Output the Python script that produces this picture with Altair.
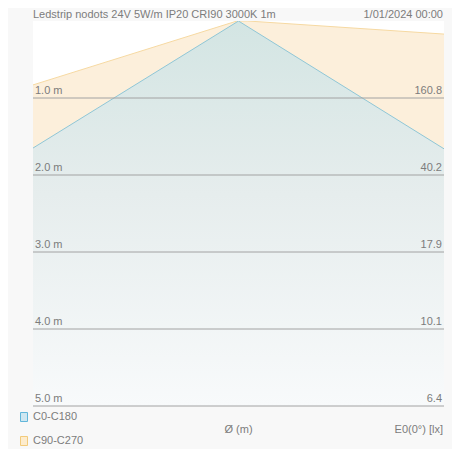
import altair as alt
import pandas as pd

# ---- data ----
title_left = "Ledstrip nodots 24V 5W/m IP20 CRI90 3000K 1m"
title_right = "1/01/2024 00:00"

distances = [1.0, 2.0, 3.0, 4.0, 5.0]
dist_labels = ["1.0 m", "2.0 m", "3.0 m", "4.0 m", "5.0 m"]
lux_labels = ["160.8", "40.2", "17.9", "10.1", "6.4"]

# cone outlines: diameter position (m) and distance (m)
c0_x = [-2.67, 0.0, 2.67]
c0_d = [1.65, 0.0, 1.66]
c90_x = [-2.67, -0.02, 0.12, 2.67]
c90_d = [0.83, 0.0, 0.0, 0.17]

legend_labels = ["C0-C180", "C90-C270"]
x_title = "Ø (m)"
e_title = "E0(0°) [lx]"

X_DOMAIN = [-2.67, 2.67]
Y_DOMAIN = [0.0, 5.0]
W, H = 411, 385
FONT = "Liberation Sans"
TXT = "#7c7c7c"

xs = alt.Scale(domain=X_DOMAIN, nice=False, zero=False)
ys = alt.Scale(domain=Y_DOMAIN, nice=False, zero=False, reverse=True)

c0 = pd.DataFrame({"x": c0_x, "d": c0_d, "bottom": Y_DOMAIN[1]})
c90 = pd.DataFrame({"x": c90_x, "d": c90_d, "bottom": Y_DOMAIN[1]})
grid = pd.DataFrame({"d": distances, "left": dist_labels, "right": lux_labels})

X = alt.X("x:Q", scale=xs, axis=None)
Y = alt.Y("d:Q", scale=ys, axis=None)

c90_area = alt.Chart(c90).mark_area(color="#fcefdb", clip=True, interpolate="linear").encode(
    x=X, y=Y, y2="bottom:Q")
c90_line = alt.Chart(c90).mark_line(color="#f6d9a2", strokeWidth=1, clip=True).encode(x=X, y=Y)

blue_grad = alt.Gradient(
    gradient="linear",
    stops=[alt.GradientStop(color="#d3e5e3", offset=0),
           alt.GradientStop(color="#e6eded", offset=0.45),
           alt.GradientStop(color="#f8fafb", offset=1)],
    x1=0, x2=0, y1=0, y2=1)
c0_area = alt.Chart(c0).mark_area(color=blue_grad, clip=True, interpolate="linear").encode(
    x=X, y=Y, y2="bottom:Q")
c0_line = alt.Chart(c0).mark_line(color="#8fc6d6", strokeWidth=1, clip=True).encode(x=X, y=Y)

rules = alt.Chart(grid).mark_rule(color="#a2a2a2", strokeWidth=1).encode(
    y=alt.Y("d:Q", scale=ys, axis=None), x=alt.value(0), x2=alt.value(W))
left_txt = alt.Chart(grid).mark_text(align="left", baseline="bottom", dy=-2, fontSize=11,
                                     font=FONT, color=TXT).encode(
    y=alt.Y("d:Q", scale=ys, axis=None), x=alt.value(2), text="left:N")
right_txt = alt.Chart(grid).mark_text(align="right", baseline="bottom", dy=-2, fontSize=11,
                                      font=FONT, color=TXT).encode(
    y=alt.Y("d:Q", scale=ys, axis=None), x=alt.value(W - 2), text="right:N")

def label(txt, x, y, align, baseline="middle"):
    return alt.Chart(pd.DataFrame({"t": [txt]})).mark_text(
        align=align, baseline=baseline, fontSize=11, font=FONT, color=TXT).encode(
        x=alt.value(x), y=alt.value(y), text="t:N")

def swatch(y, fill, stroke):
    return alt.Chart(pd.DataFrame({"a": [0]})).mark_rect(fill=fill, stroke=stroke, strokeWidth=1).encode(
        x=alt.value(-12.5), x2=alt.value(-5.5), y=alt.value(y - 4.5), y2=alt.value(y + 4.5))

layers = [
    c90_area, c90_line, c0_area, c0_line, rules, left_txt, right_txt,
    label(title_left, 0, -12.5, "left", "top"),
    label(title_right, W - 1, -12.5, "right", "top"),
    swatch(396, "#cfe7f1", "#62b6da"),
    swatch(420, "#fdeccd", "#f2cb7c"),
    label(legend_labels[0], 0, 396, "left"),
    label(legend_labels[1], 0, 420, "left"),
    label(x_title, W / 2, 409, "center"),
    label(e_title, W - 1, 409, "right"),
]

chart = alt.layer(*layers).properties(
    width=W, height=H,
    autosize=alt.AutoSizeParams(type="none"),
    padding={"left": 25, "top": 13, "right": 8, "bottom": 43},
    background="#f8f8f8",
).configure_view(stroke=None, fill="#ffffff")

chart.save("out.html", embed_options={"renderer": "svg", "actions": False})
